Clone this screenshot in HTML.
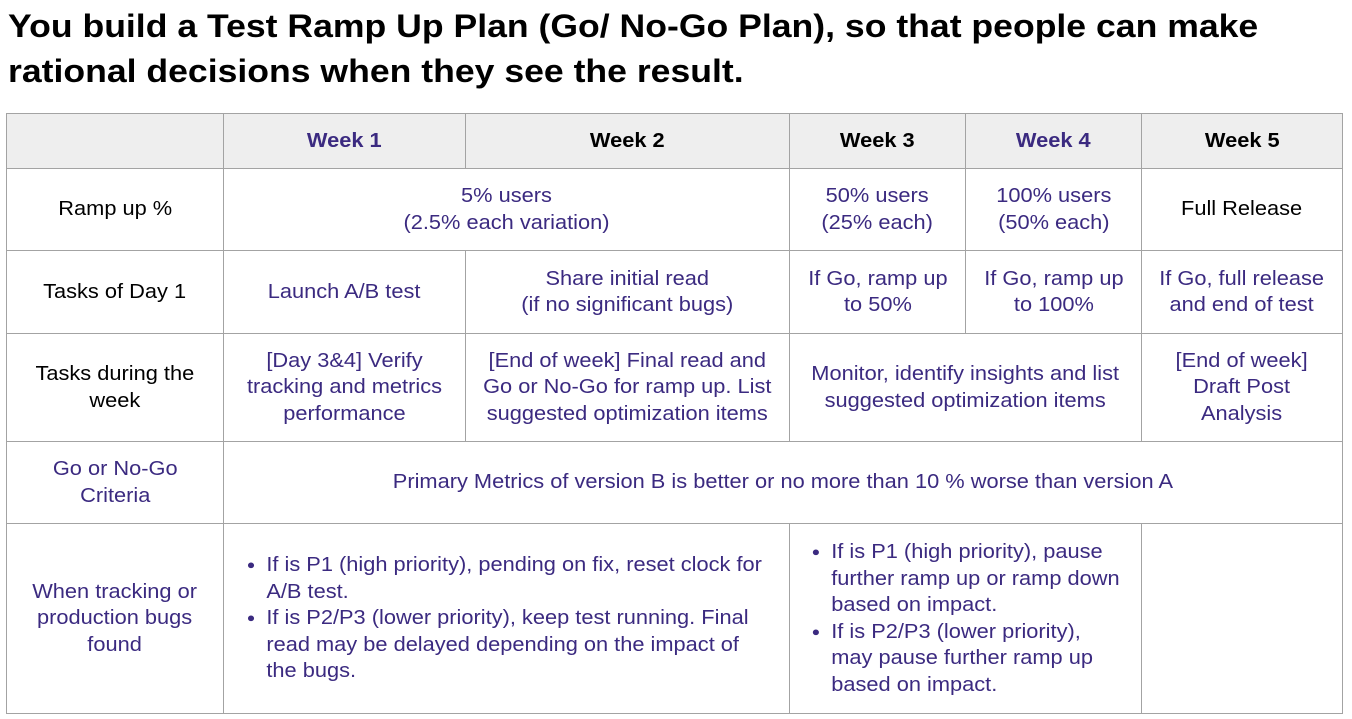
<!DOCTYPE html>
<html><head><meta charset="utf-8"><style>
body{margin:0;width:1352px;height:719px;background:#fff;font-family:"Liberation Sans",Arial,sans-serif;position:relative;overflow:hidden}
h1{position:absolute;left:8px;top:4px;margin:0;font-size:32px;line-height:45px;font-weight:bold;color:#000;white-space:nowrap;transform:scaleX(1.112);transform-origin:left top}
.c{position:absolute;display:flex;align-items:center;justify-content:center;text-align:center;font-size:20px;line-height:26.5px;color:#3b2a80;box-sizing:border-box;border:1px solid #a3a3a3;white-space:nowrap}
.c>span{display:inline-block;transform:scaleX(1.09)}
.h{background:#eeeeee;font-weight:bold;color:#000}
.k{color:#000}
ul{margin:0;padding-left:40px;text-align:left;list-style:none;transform:scaleX(1.09);transform-origin:left center}
li{position:relative}
li:before{content:"●";position:absolute;left:-18px;font-size:13px}
</style></head><body>
<h1>You build a Test Ramp Up Plan (Go/ No-Go Plan), so that people can make<br>rational decisions when they see the result.</h1>
<div>
<div class="c h" style="left:6px;top:113px;width:218px;height:56px"></div>
<div class="c h" style="left:223px;top:113px;width:243px;height:56px;color:#3b2a80"><span>Week 1</span></div>
<div class="c h" style="left:465px;top:113px;width:325px;height:56px"><span>Week 2</span></div>
<div class="c h" style="left:789px;top:113px;width:177px;height:56px"><span>Week 3</span></div>
<div class="c h" style="left:965px;top:113px;width:177px;height:56px;color:#3b2a80"><span>Week 4</span></div>
<div class="c h" style="left:1141px;top:113px;width:202px;height:56px"><span>Week 5</span></div>

<div class="c k" style="left:6px;top:168px;width:218px;height:83px"><span>Ramp up %</span></div>
<div class="c" style="left:223px;top:168px;width:567px;height:83px"><span>5% users<br>(2.5% each variation)</span></div>
<div class="c" style="left:789px;top:168px;width:177px;height:83px"><span>50% users<br>(25% each)</span></div>
<div class="c" style="left:965px;top:168px;width:177px;height:83px"><span>100% users<br>(50% each)</span></div>
<div class="c k" style="left:1141px;top:168px;width:202px;height:83px"><span>Full Release</span></div>

<div class="c k" style="left:6px;top:250px;width:218px;height:84px"><span>Tasks of Day 1</span></div>
<div class="c" style="left:223px;top:250px;width:243px;height:84px"><span>Launch A/B test</span></div>
<div class="c" style="left:465px;top:250px;width:325px;height:84px"><span>Share initial read<br>(if no significant bugs)</span></div>
<div class="c" style="left:789px;top:250px;width:177px;height:84px"><span>If Go, ramp up<br>to 50%</span></div>
<div class="c" style="left:965px;top:250px;width:177px;height:84px"><span>If Go, ramp up<br>to 100%</span></div>
<div class="c" style="left:1141px;top:250px;width:202px;height:84px"><span>If Go, full release<br>and end of test</span></div>

<div class="c k" style="left:6px;top:333px;width:218px;height:109px"><span>Tasks during the<br>week</span></div>
<div class="c" style="left:223px;top:333px;width:243px;height:109px"><span>[Day 3&amp;4] Verify<br>tracking and metrics<br>performance</span></div>
<div class="c" style="left:465px;top:333px;width:325px;height:109px"><span>[End of week] Final read and<br>Go or No-Go for ramp up. List<br>suggested optimization items</span></div>
<div class="c" style="left:789px;top:333px;width:353px;height:109px"><span>Monitor, identify insights and list<br>suggested optimization items</span></div>
<div class="c" style="left:1141px;top:333px;width:202px;height:109px"><span>[End of week]<br>Draft Post<br>Analysis</span></div>

<div class="c" style="left:6px;top:441px;width:218px;height:83px"><span>Go or No-Go<br>Criteria</span></div>
<div class="c" style="left:223px;top:441px;width:1120px;height:83px"><span>Primary Metrics of version B is better or no more than 10 % worse than version A</span></div>

<div class="c" style="left:6px;top:523px;width:218px;height:191px"><span>When tracking or<br>production bugs<br>found</span></div>
<div class="c" style="left:223px;top:523px;width:567px;height:191px;justify-content:flex-start"><ul style="padding-left:37px;margin-left:2px"><li>If is P1 (high priority), pending on fix, reset clock for<br>A/B test.</li><li>If is P2/P3 (lower priority), keep test running. Final<br>read may be delayed depending on the impact of<br>the bugs.</li></ul></div>
<div class="c" style="left:789px;top:523px;width:353px;height:191px;justify-content:flex-start"><ul style="padding-left:36px;margin-left:2px"><li>If is P1 (high priority), pause<br>further ramp up or ramp down<br>based on impact.</li><li>If is P2/P3 (lower priority),<br>may pause further ramp up<br>based on impact.</li></ul></div>
<div class="c" style="left:1141px;top:523px;width:202px;height:191px"></div>
</div>
</body></html>
